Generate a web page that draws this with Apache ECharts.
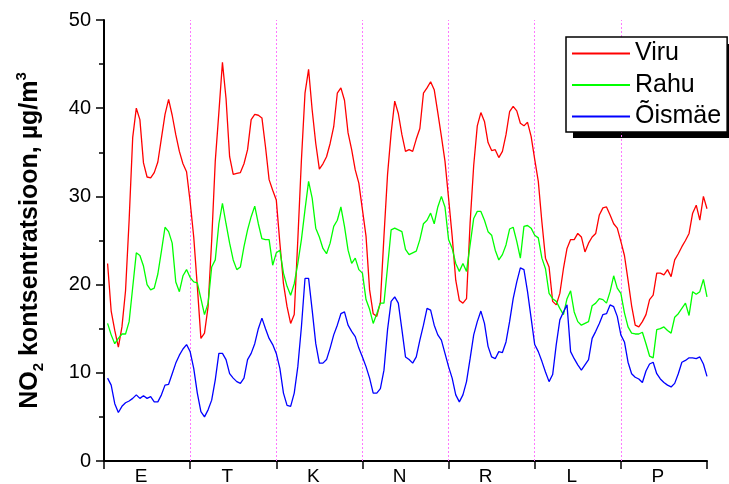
<!DOCTYPE html>
<html>
<head>
<meta charset="utf-8">
<script src="https://cdn.jsdelivr.net/npm/echarts@6/dist/echarts.min.js"></script>
<style>html,body{margin:0;padding:0;background:#fff}#c{width:729px;height:484px}</style>
</head>
<body>
<div id="c"></div>
<script>
const dayLabels = ['E','T','K','N','R','L','P'];
const hoursPerDay = 24;
const seriesNames = ['Viru','Rahu','Õismäe'];
const yTicks = [0,10,20,30,40,50];

const viru = [
22.4,17.0,14.8,12.9,15.2,19.3,27.3,36.7,40.0,38.7,33.8,32.2,32.1,32.7,33.9,36.6,39.3,41.0,39.2,37.0,35.1,33.7,32.8,29.4,
25.4,19.8,13.9,14.5,17.5,25.0,34.0,39.5,45.2,41.1,34.5,32.5,32.6,32.7,33.7,35.3,38.7,39.3,39.2,38.9,35.6,31.9,30.7,29.6,
24.7,20.1,17.5,15.6,16.6,25.1,34.1,41.7,44.4,39.8,36.0,33.1,33.7,34.5,36.0,37.9,41.7,42.3,40.9,37.2,35.3,33.0,31.5,28.5,
25.5,19.4,16.7,16.4,18.0,25.5,32.5,37.2,40.8,39.4,37.0,35.1,35.3,35.1,36.5,37.7,41.7,42.3,43.0,42.1,39.5,36.8,34.0,29.8,
25.5,20.5,18.2,17.9,18.4,27.0,33.5,38.0,39.5,38.5,36.1,35.2,35.3,34.4,35.1,37.0,39.6,40.2,39.7,38.3,38.0,38.4,36.8,34.2,
31.7,27.1,23.0,22.0,18.1,17.7,19.0,21.8,24.1,25.1,25.1,25.8,25.4,23.7,24.7,25.4,25.8,27.9,28.7,28.8,27.9,26.9,26.4,24.9,
23.3,20.5,17.6,15.4,15.2,15.8,16.6,18.3,18.8,21.3,21.3,21.1,21.7,20.9,22.8,23.5,24.3,25.0,25.8,28.1,29.0,27.3,30.0,28.6
];
const rahu = [
15.6,14.3,13.3,13.9,14.4,14.4,15.8,19.7,23.6,23.3,22.1,20.0,19.4,19.6,21.2,23.8,26.5,26.0,24.7,20.3,19.2,21.0,21.7,20.8,
20.3,20.2,18.4,16.6,17.9,22.0,22.8,26.9,29.2,26.9,24.7,22.8,21.7,22.0,24.3,26.2,27.7,28.9,26.9,25.2,25.1,25.1,22.2,23.6,
23.9,21.3,19.8,18.8,20.1,22.4,25.1,28.5,31.7,29.8,26.4,25.4,24.1,23.5,24.7,26.6,27.3,28.8,26.6,23.9,22.4,23.0,21.7,21.3,
18.3,17.2,15.6,16.7,17.9,17.9,22.0,26.2,26.4,26.2,26.0,24.0,23.4,23.6,23.8,25.1,26.9,27.3,28.1,26.9,28.8,30.0,28.8,25.1,
24.1,22.4,21.5,22.4,21.5,24.5,27.5,28.3,28.3,27.3,26.0,25.6,23.9,22.8,23.4,24.5,26.3,26.5,24.9,23.0,26.6,26.7,26.4,25.6,
25.3,23.0,21.8,19.0,18.4,18.1,17.3,16.6,18.4,19.3,16.9,15.8,15.4,15.6,15.8,17.6,17.9,18.4,18.3,17.9,19.2,21.0,19.6,19.0,
16.8,15.2,14.5,14.4,14.4,14.6,13.3,11.9,11.7,14.9,15.0,15.2,14.8,14.5,16.3,16.7,17.3,17.9,16.5,19.2,18.9,19.2,20.6,18.6
];
const oismae = [
9.4,8.6,6.5,5.5,6.2,6.6,6.8,7.1,7.5,7.1,7.4,7.1,7.3,6.7,6.7,7.5,8.6,8.7,9.9,11.1,12.0,12.7,13.2,12.4,
10.5,7.7,5.6,5.0,5.8,6.9,9.2,12.2,12.2,11.5,9.9,9.4,9.0,8.8,9.4,11.5,12.2,13.3,15.0,16.2,15.0,13.9,13.2,12.2,
10.5,7.7,6.3,6.2,7.7,10.7,15.2,20.7,20.7,17.1,13.3,11.1,11.1,11.5,12.8,14.3,15.4,16.7,16.9,15.4,14.7,14.1,12.8,11.8,
10.7,9.4,7.7,7.7,8.2,10.3,14.9,18.1,18.6,17.9,14.9,11.8,11.5,11.1,11.8,13.7,15.4,17.3,17.1,15.4,14.3,13.7,12.2,10.7,
9.4,7.5,6.7,7.5,9.0,11.6,14.3,15.8,17.0,15.6,13.0,11.8,11.6,12.4,12.3,13.5,15.8,18.4,20.3,21.9,21.7,19.2,16.2,13.2,
12.4,11.3,10.1,9.0,9.8,13.2,16.0,16.9,17.7,12.4,11.6,10.9,10.3,10.9,11.5,13.9,14.7,15.6,16.6,16.7,17.7,17.5,16.4,14.3,
13.5,11.2,9.9,9.5,9.3,8.9,10.2,11.0,11.2,9.9,9.3,8.9,8.6,8.4,8.8,9.9,11.2,11.4,11.7,11.7,11.6,11.8,11.0,9.6
];

const FONT = '"Liberation Sans", Arial, sans-serif';
const totalHours = dayLabels.length * hoursPerDay;
const dividers = dayLabels.slice(1).map((_, i) => (i + 1) * hoursPerDay);
const toPairs = arr => arr.map((v, i) => [i + 1, v]);
const colors = ['#ff0000', '#00ff00', '#0000ff'];

const chart = echarts.init(document.getElementById('c'), null, {renderer: 'canvas'});
chart.setOption({
  animation: false,
  backgroundColor: '#fff',
  grid: {left: 104, right: 22, top: 20, bottom: 23, containLabel: false, outerBoundsMode: 'none'},
  graphic: [{
    type: 'rect', z: 1,
    shape: {x: 573, y: 44, width: 160, height: 94},
    style: {fill: '#000'}
  }],
  legend: {
    orient: 'vertical', left: 566, top: 37, z: 10,
    padding: [4, 6, 3, 6], itemGap: 6.5,
    itemWidth: 58, itemHeight: 2, icon: 'rect',
    backgroundColor: '#fff', borderColor: '#000', borderWidth: 1.5,
    textStyle: {fontFamily: FONT, fontSize: 25, color: '#000'},
    data: seriesNames
  },
  xAxis: [{
    type: 'value', min: 0, max: totalHours, interval: hoursPerDay,
    axisLine: {show: true, lineStyle: {color: '#000', width: 2}},
    axisTick: {show: true, inside: false, length: 8, lineStyle: {color: '#000', width: 1.5}},
    axisLabel: {show: false},
    splitLine: {show: false}
  }, {
    type: 'category', position: 'bottom', data: dayLabels, boundaryGap: true,
    axisLine: {show: false}, axisTick: {show: false}, splitLine: {show: false},
    axisLabel: {fontFamily: FONT, fontSize: 19, color: '#000', margin: 6, padding: [0, 12, 0, 0]}
  }],
  yAxis: {
    type: 'value', min: yTicks[0], max: yTicks[yTicks.length - 1], interval: yTicks[1] - yTicks[0],
    axisLine: {show: true, lineStyle: {color: '#000', width: 2}},
    axisTick: {show: true, inside: false, length: 8, lineStyle: {color: '#000', width: 1.5}},
    minorTick: {show: true, splitNumber: 2, length: 5, lineStyle: {color: '#000', width: 1.5}},
    splitLine: {show: false},
    axisLabel: {fontFamily: FONT, fontSize: 20, color: '#000', margin: 13},
    name: '{b|NO}{sub|2}{b| kontsentratsioon, µg/m}{sup|3}',
    nameLocation: 'middle', nameRotate: 90, nameGap: 58,
    nameTextStyle: {
      fontFamily: FONT, fontWeight: 'bold', fontSize: 25, color: '#000',
      rich: {
        b: {fontFamily: FONT, fontWeight: 'bold', fontSize: 25, color: '#000', lineHeight: 32},
        sub: {fontFamily: FONT, fontWeight: 'bold', fontSize: 15, color: '#000', verticalAlign: 'bottom'},
        sup: {fontFamily: FONT, fontWeight: 'bold', fontSize: 15, color: '#000', verticalAlign: 'top'}
      }
    }
  },
  series: [
    {name: seriesNames[0], type: 'line', xAxisIndex: 0, data: toPairs(viru), symbol: 'none',
     lineStyle: {color: colors[0], width: 1.3}, itemStyle: {color: colors[0]}, z: 3,
     markLine: {silent: true, symbol: ['none', 'none'], label: {show: false},
       lineStyle: {color: '#ff77ff', type: [2, 2], width: 1}, z: 1,
       data: dividers.map(v => ({xAxis: v}))}},
    {name: seriesNames[1], type: 'line', xAxisIndex: 0, data: toPairs(rahu), symbol: 'none',
     lineStyle: {color: colors[1], width: 1.3}, itemStyle: {color: colors[1]}, z: 3},
    {name: seriesNames[2], type: 'line', xAxisIndex: 0, data: toPairs(oismae), symbol: 'none',
     lineStyle: {color: colors[2], width: 1.3}, itemStyle: {color: colors[2]}, z: 3}
  ]
});
</script>
</body>
</html>
